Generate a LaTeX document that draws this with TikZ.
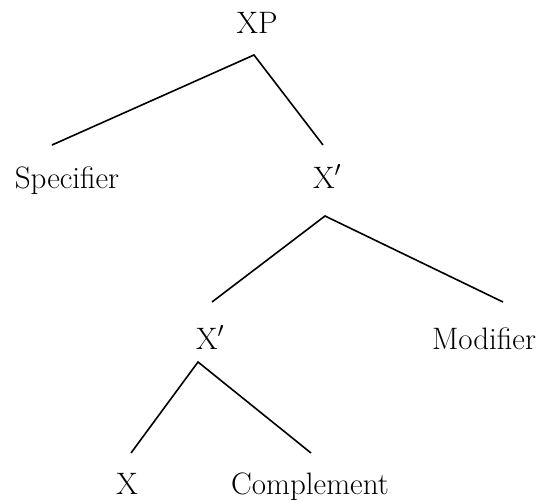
\RequirePackage{fix-cm}
\documentclass[tikz,border=0pt]{standalone}
\begin{document}
\begin{tikzpicture}[x=1pt,y=-1pt,
  lbl/.style={font=\fontsize{31}{37}\selectfont, inner sep=0pt, anchor=base},
  edge/.style={line width=1.6pt, line join=miter}]
\useasboundingbox (0,0) rectangle (538,500);
% labels
\node[lbl] (xp)   at (257,34)  {XP};
\node[lbl] (spec) at (67,188)  {Specifier};
\node[lbl] (xb1)  at (327,188) {X$'$};
\node[lbl] (xb2)  at (210,349) {X$'$};
\node[lbl] (mod)  at (484,349) {Modifier};
\node[lbl] (x)    at (127,494) {X};
\node[lbl] (comp) at (310,494) {Complement};
% connector ends
\coordinate (xpa)  at ([shift={(-3,21)}]xp.base);
\coordinate (spect) at ([shift={(-15,-43)}]spec.base);
\coordinate (xb1t) at ([shift={(-4,-43)}]xb1.base);
\coordinate (xb1a) at ([shift={(-2,28)}]xb1.base);
\coordinate (xb2t) at ([shift={(2,-47)}]xb2.base);
\coordinate (modt) at ([shift={(19,-47)}]mod.base);
\coordinate (xb2a) at ([shift={(-12,13)}]xb2.base);
\coordinate (xt)   at ([shift={(4,-41)}]x.base);
\coordinate (compt) at ([shift={(1,-41)}]comp.base);
% connectors
\draw[edge] (spect) -- (xpa) -- (xb1t);
\draw[edge] (xb2t) -- (xb1a) -- (modt);
\draw[edge] (xt) -- (xb2a) -- (compt);
\end{tikzpicture}
\end{document}
